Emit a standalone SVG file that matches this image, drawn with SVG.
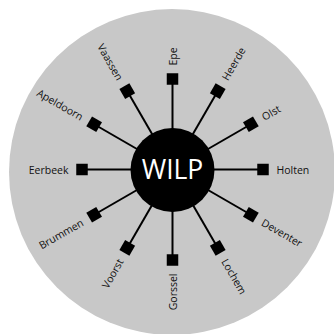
<svg xmlns="http://www.w3.org/2000/svg" width="334" height="334" viewBox="0 0 334 334">
<defs>
<style>
.lbl{font-family:"Open Sans","DejaVu Sans",sans-serif;font-size:10.5px;fill:#111;dominant-baseline:central}
.sq{fill:#000}
.ln{stroke:#000;stroke-width:2}
</style>
</defs>
<rect width="334" height="334" fill="#fff"/>
<circle cx="172" cy="172" r="163" fill="#c8c8c8"/>
<g id="connectors" transform="translate(172.5,169.5)">
<line class="ln" x1="40" y1="0" x2="86" y2="0" transform="rotate(0)"/>
<line class="ln" x1="40" y1="0" x2="86" y2="0" transform="rotate(30)"/>
<line class="ln" x1="40" y1="0" x2="86" y2="0" transform="rotate(60)"/>
<line class="ln" x1="40" y1="0" x2="86" y2="0" transform="rotate(90)"/>
<line class="ln" x1="40" y1="0" x2="86" y2="0" transform="rotate(120)"/>
<line class="ln" x1="40" y1="0" x2="86" y2="0" transform="rotate(150)"/>
<line class="ln" x1="40" y1="0" x2="86" y2="0" transform="rotate(180)"/>
<line class="ln" x1="40" y1="0" x2="86" y2="0" transform="rotate(210)"/>
<line class="ln" x1="40" y1="0" x2="86" y2="0" transform="rotate(240)"/>
<line class="ln" x1="40" y1="0" x2="86" y2="0" transform="rotate(270)"/>
<line class="ln" x1="40" y1="0" x2="86" y2="0" transform="rotate(300)"/>
<line class="ln" x1="40" y1="0" x2="86" y2="0" transform="rotate(330)"/>
</g>
<g id="wilp">
<circle cx="172.5" cy="170" r="42" fill="#000"/>
<text x="172.5" y="179.3" text-anchor="middle" font-family="'Open Sans','DejaVu Sans',sans-serif" font-size="26.5" fill="#fff">WILP</text>
</g>
<g id="holten" transform="translate(172.5,169.5) rotate(0)">
<rect class="sq" x="84.75" y="-5.75" width="11.5" height="11.5"/>
<text class="lbl" x="104" y="0">Holten</text>
</g>
<g id="deventer" transform="translate(172.5,169.5) rotate(30)">
<rect class="sq" x="84.75" y="-5.75" width="11.5" height="11.5"/>
<text class="lbl" x="104" y="0">Deventer</text>
</g>
<g id="lochem" transform="translate(172.5,169.5) rotate(60)">
<rect class="sq" x="84.75" y="-5.75" width="11.5" height="11.5"/>
<text class="lbl" x="104" y="0">Lochem</text>
</g>
<g id="gorssel" transform="translate(172.5,169.5) rotate(90)">
<rect class="sq" x="84.75" y="-5.75" width="11.5" height="11.5"/>
<text class="lbl" transform="translate(104,0) rotate(180)" text-anchor="end">Gorssel</text>
</g>
<g id="voorst" transform="translate(172.5,169.5) rotate(120)">
<rect class="sq" x="84.75" y="-5.75" width="11.5" height="11.5"/>
<text class="lbl" transform="translate(104,0) rotate(180)" text-anchor="end">Voorst</text>
</g>
<g id="brummen" transform="translate(172.5,169.5) rotate(150)">
<rect class="sq" x="84.75" y="-5.75" width="11.5" height="11.5"/>
<text class="lbl" transform="translate(104,0) rotate(180)" text-anchor="end">Brummen</text>
</g>
<g id="eerbeek" transform="translate(172.5,169.5) rotate(180)">
<rect class="sq" x="84.75" y="-5.75" width="11.5" height="11.5"/>
<text class="lbl" transform="translate(104,0) rotate(180)" text-anchor="end">Eerbeek</text>
</g>
<g id="apeldoorn" transform="translate(172.5,169.5) rotate(210)">
<rect class="sq" x="84.75" y="-5.75" width="11.5" height="11.5"/>
<text class="lbl" transform="translate(104,0) rotate(180)" text-anchor="end">Apeldoorn</text>
</g>
<g id="vaassen" transform="translate(172.5,169.5) rotate(240)">
<rect class="sq" x="84.75" y="-5.75" width="11.5" height="11.5"/>
<text class="lbl" transform="translate(104,0) rotate(180)" text-anchor="end">Vaassen</text>
</g>
<g id="epe" transform="translate(172.5,169.5) rotate(270)">
<rect class="sq" x="84.75" y="-5.75" width="11.5" height="11.5"/>
<text class="lbl" x="104" y="0">Epe</text>
</g>
<g id="heerde" transform="translate(172.5,169.5) rotate(300)">
<rect class="sq" x="84.75" y="-5.75" width="11.5" height="11.5"/>
<text class="lbl" x="104" y="0">Heerde</text>
</g>
<g id="olst" transform="translate(172.5,169.5) rotate(330)">
<rect class="sq" x="84.75" y="-5.75" width="11.5" height="11.5"/>
<text class="lbl" x="104" y="0">Olst</text>
</g>
</svg>
